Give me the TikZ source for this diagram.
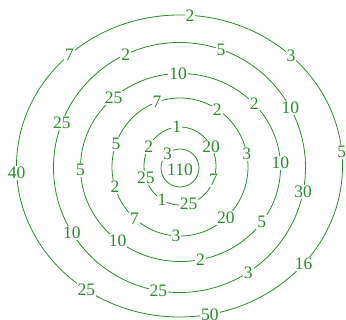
\documentclass[tikz,border=0pt]{standalone}
\usepackage{fontspec}
\setmainfont{Liberation Serif}
\definecolor{ring}{RGB}{40,140,40}
\begin{document}
\begin{tikzpicture}[x=1pt,y=-1pt,
  ringline/.style={draw=ring, line width=0.8pt},
  lab/.style={fill=white, text=ring, inner sep=1pt, font=\fontsize{17.5}{17.5}\selectfont}]
\useasboundingbox (0,0) rectangle (346,320);
% ring 0
\draw[ringline] (180,168) circle [radius=19];
\node[lab] (r0n1) at ({180+19*cos(131)},{168-19*sin(131)}) {3};
\node[lab, fill=none] (mid) at (180,170) {110};
% ring 1
\draw[ringline] (180,166) ellipse [x radius=36, y radius=39];
\foreach \a/\t [count=\i] in {95/1, 30/20, -21/7, -76/25, 240/1, 198/25, 150.5/2}
  \node[lab] (r1n\i) at ({180+36*cos(\a)},{166-39*sin(\a)}) {\t};
% ring 2
\draw[ringline] (180,167) ellipse [x radius=68, y radius=69];
\foreach \a/\t [count=\i] in {109.7/7, 56.8/2, 10.7/3, -47.5/20, -93.3/3, 228/7, 197/2, 160.5/5}
  \node[lab] (r2n\i) at ({180+68*cos(\a)},{167-69*sin(\a)}) {\t};
% ring 3
\draw[ringline] (180.5,167.5) ellipse [x radius=100, y radius=94];
\foreach \a/\t [count=\i] in {91.4/10, 42.5/2, 2.7/10, -35.6/5, -78.4/2, 231/10, 181.5/5, 132/25}
  \node[lab] (r3n\i) at ({180.5+100*cos(\a)},{167.5-94*sin(\a)}) {\t};
% ring 4
\draw[ringline] (179.5,167.5) ellipse [x radius=126, y radius=125];
\foreach \a/\t [count=\i] in {115.3/2, 70.8/5, 28.3/10, -11.3/30, -57/3, -99.7/25, 211.4/10, 159/25}
  \node[lab] (r4n\i) at ({179.5+126*cos(\a)},{167.5-125*sin(\a)}) {\t};
% ring 5
\draw[ringline] (179.5,166) ellipse [x radius=163, y radius=151];
\foreach \a/\t [count=\i] in {86.3/2, 46.8/3, 5.4/5, -40.4/16, -79.3/50, 235.2/25, 182.6/40, 132.4/7}
  \node[lab] (r5n\i) at ({179.5+163*cos(\a)},{166-151*sin(\a)}) {\t};
\end{tikzpicture}
\end{document}
